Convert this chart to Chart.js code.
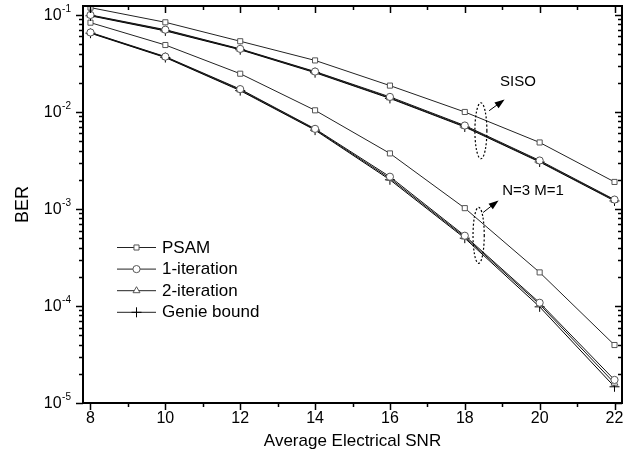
<!DOCTYPE html>
<html>
<head>
<meta charset="utf-8">
<script src="https://cdn.jsdelivr.net/npm/chart.js@4/dist/chart.umd.min.js"></script>
<style>
  html, body { margin: 0; padding: 0; background: #fff; }
  #wrap { width: 632px; height: 462px; }
</style>
</head>
<body>
<div id="wrap"><canvas id="c" width="632" height="462"></canvas></div>
<script>
// ---- data ----
const snr = [8, 10, 12, 14, 16, 18, 20, 22];

const psamSISO  = [0.119, 0.084, 0.0536, 0.0340, 0.0187, 0.0100, 0.00485, 0.00190];
const iter1SISO = [0.100, 0.0705, 0.0447, 0.0261, 0.0143, 0.00725, 0.00316, 0.00125];
const iter2SISO = [0.099, 0.0695, 0.0443, 0.0258, 0.0140, 0.00712, 0.00310, 0.00123];
const genieSISO = [0.098, 0.0685, 0.0438, 0.0254, 0.0138, 0.00700, 0.00305, 0.00121];

const psamN3  = [0.0833, 0.0490, 0.0248, 0.0104, 0.00374, 0.00102, 2.22e-4, 3.96e-5];
const iter1N3 = [0.0660, 0.0372, 0.0172, 0.0067, 0.00215, 5.30e-4, 1.08e-4, 1.73e-5];
const iter2N3 = [0.0655, 0.0368, 0.0169, 0.0066, 0.00207, 5.15e-4, 1.04e-4, 1.60e-5];
const genieN3 = [0.0649, 0.0364, 0.0166, 0.0065, 0.00200, 5.00e-4, 9.8e-5, 1.47e-5];

const xMajorTicks = [8, 10, 12, 14, 16, 18, 20, 22];
const xMinorTicks = [9, 11, 13, 15, 17, 19, 21];
const yDecades = [-5, -4, -3, -2, -1];
const legendLabels = ['PSAM', '1-iteration', '2-iteration', 'Genie bound'];
const groupLabels = ['SISO', 'N=3 M=1'];

// ---- styles ----
const styleDefs = [
  { pointStyle: 'rect',     radius: 3.6, stroke: '#555', line: '#222' },
  { pointStyle: 'circle',   radius: 3.6, stroke: '#555', line: '#111' },
  { pointStyle: 'triangle', radius: 4.0, stroke: '#555', line: '#111' },
  { pointStyle: 'cross',    radius: 5.0, stroke: '#000', line: '#000' }
];

function makeDs(label, arr, k) {
  const s = styleDefs[k];
  return {
    label: label,
    data: snr.map((x, i) => ({ x: x, y: arr[i] })),
    borderColor: s.line,
    borderWidth: 1,
    pointStyle: s.pointStyle,
    pointRadius: s.radius,
    pointHoverRadius: s.radius,
    pointBorderColor: s.stroke,
    pointBorderWidth: 1,
    pointBackgroundColor: '#fff',
    fill: false,
    tension: 0
  };
}

const datasets = [
  makeDs(legendLabels[0], psamSISO, 0),
  makeDs(legendLabels[1], iter1SISO, 1),
  makeDs(legendLabels[2], iter2SISO, 2),
  makeDs(legendLabels[3], genieSISO, 3),
  makeDs(legendLabels[0], psamN3, 0),
  makeDs(legendLabels[1], iter1N3, 1),
  makeDs(legendLabels[2], iter2N3, 2),
  makeDs(legendLabels[3], genieN3, 3)
];

// annotation anchors in data units
const siso = { ex: 18.43, ey: 6.4e-3, rx: 0.16, ry: 28, ax0: 18.65, ay0: 10.3e-3, ax1: 19.02, ay1: 13.1e-3, tx: 18.94, ty: 0.0205 };
const n3   = { ex: 18.37, ey: 5.35e-4, rx: 0.15, ry: 28, ax0: 18.49, ay0: 0.92e-3, ax1: 18.86, ay1: 1.19e-3, tx: 19.0, ty: 1.55e-3 };

const FONT = 'Arial, "Liberation Sans", Helvetica, sans-serif';

function drawMarker(ctx, style, x, y, r, stroke) {
  ctx.save();
  ctx.strokeStyle = stroke;
  ctx.fillStyle = '#fff';
  ctx.lineWidth = 1;
  ctx.beginPath();
  if (style === 'rect') {
    const h = r * Math.SQRT1_2;
    ctx.rect(x - h, y - h, 2 * h, 2 * h);
    ctx.fill(); ctx.stroke();
  } else if (style === 'circle') {
    ctx.arc(x, y, r, 0, Math.PI * 2);
    ctx.fill(); ctx.stroke();
  } else if (style === 'triangle') {
    ctx.moveTo(x, y - r);
    ctx.lineTo(x + r * 0.866, y + r * 0.5);
    ctx.lineTo(x - r * 0.866, y + r * 0.5);
    ctx.closePath();
    ctx.fill(); ctx.stroke();
  } else {
    ctx.moveTo(x, y - r); ctx.lineTo(x, y + r);
    ctx.moveTo(x - r, y); ctx.lineTo(x + r, y);
    ctx.stroke();
  }
  ctx.restore();
}

function arrow(ctx, x0, y0, x1, y1) {
  ctx.save();
  ctx.strokeStyle = '#000';
  ctx.fillStyle = '#000';
  ctx.lineWidth = 1;
  ctx.beginPath(); ctx.moveTo(x0, y0); ctx.lineTo(x1, y1); ctx.stroke();
  const a = Math.atan2(y1 - y0, x1 - x0);
  const L = 8, W = 3.5;
  ctx.beginPath();
  ctx.moveTo(x1 + 2 * Math.cos(a), y1 + 2 * Math.sin(a));
  ctx.lineTo(x1 - L * Math.cos(a) + W * Math.sin(a), y1 - L * Math.sin(a) - W * Math.cos(a));
  ctx.lineTo(x1 - L * Math.cos(a) - W * Math.sin(a), y1 - L * Math.sin(a) + W * Math.cos(a));
  ctx.closePath(); ctx.fill();
  ctx.restore();
}

const framePlugin = {
  id: 'framePlugin',
  afterDraw(chart) {
    const ctx = chart.ctx;
    const ca = chart.chartArea;
    const xs = chart.scales.x, ys = chart.scales.y;
    ctx.save();
    // frame
    ctx.strokeStyle = '#000';
    ctx.lineWidth = 2;
    ctx.strokeRect(ca.left, ca.top, ca.right - ca.left, ca.bottom - ca.top);
    // x ticks
    ctx.lineWidth = 1.5;
    ctx.beginPath();
    xMajorTicks.forEach(v => {
      const px = Math.round(xs.getPixelForValue(v)) + 0.5;
      ctx.moveTo(px, ca.bottom); ctx.lineTo(px, ca.bottom + 7);
      ctx.moveTo(px, ca.top); ctx.lineTo(px, ca.top + 7);
    });
    xMinorTicks.forEach(v => {
      const px = Math.round(xs.getPixelForValue(v)) + 0.5;
      ctx.moveTo(px, ca.bottom); ctx.lineTo(px, ca.bottom + 4);
      ctx.moveTo(px, ca.top); ctx.lineTo(px, ca.top + 4);
    });
    // y ticks
    const ymax = ys.max;
    yDecades.forEach(e => {
      for (let k = 1; k <= 9; k++) {
        const v = k * Math.pow(10, e);
        if (v > ymax * 1.0001) break;
        const py = Math.round(ys.getPixelForValue(v)) + 0.5;
        const len = k === 1 ? 7 : 4;
        ctx.moveTo(ca.left - len, py); ctx.lineTo(ca.left, py);
        ctx.moveTo(ca.right - len, py); ctx.lineTo(ca.right, py);
      }
    });
    ctx.stroke();
    // y labels 10^e
    ctx.fillStyle = '#000';
    ctx.textBaseline = 'middle';
    yDecades.forEach(e => {
      const py = ys.getPixelForValue(Math.pow(10, e));
      const sup = String(e);
      ctx.font = '10px ' + FONT;
      const sw = ctx.measureText(sup).width;
      const rightEdge = ca.left - 12;
      ctx.textAlign = 'left';
      ctx.fillText(sup, rightEdge - sw, py - 6);
      ctx.font = '16px ' + FONT;
      ctx.textAlign = 'right';
      ctx.fillText('10', rightEdge - sw - 0.5, py + 1);
    });
    // legend
    const lx = ca.left + 34, ly0 = ca.top + 241, dy = 21.6;
    for (let i = 0; i < 4; i++) {
      const y = ly0 + i * dy;
      const s = styleDefs[i];
      ctx.strokeStyle = '#222';
      ctx.lineWidth = 1;
      ctx.beginPath(); ctx.moveTo(lx, y + 0.5); ctx.lineTo(lx + 39, y + 0.5); ctx.stroke();
      drawMarker(ctx, s.pointStyle, lx + 19.5, y + 0.5, s.radius, s.stroke);
      ctx.fillStyle = '#000';
      ctx.font = '17px ' + FONT;
      ctx.textAlign = 'left';
      ctx.textBaseline = 'middle';
      ctx.fillText(legendLabels[i], lx + 45, y + 1);
    }
    // annotations
    [siso, n3].forEach((a, gi) => {
      const cx = xs.getPixelForValue(a.ex), cy = ys.getPixelForValue(a.ey);
      const rx = xs.getPixelForValue(a.ex + a.rx) - cx;
      ctx.save();
      ctx.setLineDash([2, 2]);
      ctx.lineWidth = 1.2;
      ctx.strokeStyle = '#000';
      ctx.beginPath();
      ctx.ellipse(cx, cy, rx, a.ry, 0, 0, Math.PI * 2);
      ctx.stroke();
      ctx.restore();
      arrow(ctx, xs.getPixelForValue(a.ax0), ys.getPixelForValue(a.ay0),
                 xs.getPixelForValue(a.ax1), ys.getPixelForValue(a.ay1));
      ctx.fillStyle = '#000';
      ctx.font = '15px ' + FONT;
      ctx.textAlign = 'left';
      ctx.textBaseline = 'middle';
      ctx.fillText(groupLabels[gi], xs.getPixelForValue(a.tx), ys.getPixelForValue(a.ty));
    });
    ctx.restore();
  }
};

new Chart(document.getElementById('c'), {
  type: 'line',
  data: { datasets: datasets },
  options: {
    responsive: false,
    devicePixelRatio: 1,
    animation: false,
    layout: { padding: { left: 0, right: 10, top: 5, bottom: 0 } },
    plugins: {
      legend: { display: false },
      tooltip: { enabled: false }
    },
    scales: {
      x: {
        type: 'linear',
        min: 7.8,
        max: 22.2,
        afterBuildTicks: s => { s.ticks = xMajorTicks.map(v => ({ value: v })); },
        afterFit: s => { s.height = 59; },
        grid: { display: false, drawTicks: false },
        border: { display: false },
        ticks: { color: '#000', font: { family: FONT, size: 16 }, padding: 6, maxRotation: 0, autoSkip: false },
        title: { display: true, text: 'Average Electrical SNR', color: '#000', font: { family: FONT, size: 17 }, padding: { top: 4, bottom: 10 } }
      },
      y: {
        type: 'logarithmic',
        min: 1e-5,
        max: 0.1237,
        afterFit: s => { s.width = 83; },
        grid: { display: false, drawTicks: false },
        border: { display: false },
        ticks: { display: false },
        title: { display: true, text: 'BER', color: '#000', font: { family: FONT, size: 18 }, padding: { top: 12, bottom: 0 } }
      }
    }
  },
  plugins: [framePlugin]
});
</script>
</body>
</html>
